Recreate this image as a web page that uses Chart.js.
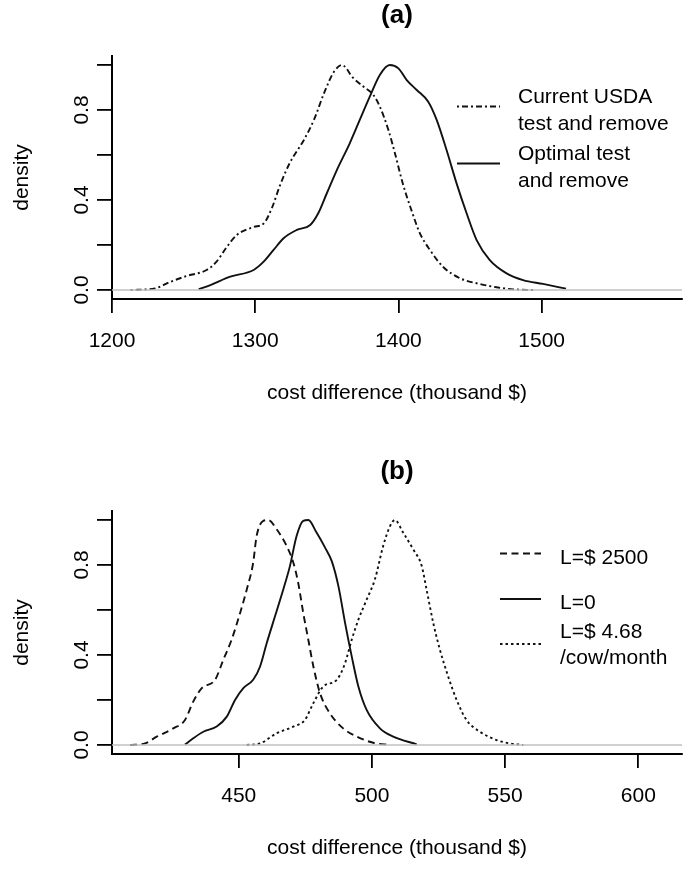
<!DOCTYPE html>
<html>
<head>
<meta charset="utf-8">
<script src="https://cdn.jsdelivr.net/npm/chart.js@4/dist/chart.umd.min.js"></script>
<style>
  html, body { margin: 0; padding: 0; background: #fff; }
  canvas { position: absolute; left: 0; }
  #chartA { top: 0; }
  #chartB { top: 455px; }
</style>
</head>
<body>
<canvas id="chartA" width="692" height="455"></canvas>
<canvas id="chartB" width="692" height="415"></canvas>
<script>
// panel (a): density of cost difference
const usdaCost = [1213, 1230, 1241, 1252, 1266, 1273, 1280, 1287, 1299, 1306, 1312, 1317, 1324, 1334, 1341, 1348, 1355, 1360.5, 1368.6, 1375.5, 1382.5, 1387, 1393, 1397.6, 1403, 1409, 1415, 1422, 1431, 1443, 1454.6, 1468.5, 1480, 1494];
const usdaDens = [0, 0.007, 0.037, 0.062, 0.089, 0.126, 0.19, 0.244, 0.28, 0.296, 0.37, 0.46, 0.563, 0.667, 0.756, 0.874, 0.97, 1.0, 0.941, 0.904, 0.867, 0.815, 0.711, 0.607, 0.474, 0.356, 0.252, 0.178, 0.104, 0.052, 0.03, 0.012, 0.003, 0];
const optCost = [1260.5, 1268.7, 1282.6, 1298.9, 1305.9, 1312.8, 1319.8, 1329, 1338.4, 1344, 1350, 1357, 1366, 1373, 1380, 1387, 1394, 1400, 1405.8, 1412.8, 1420.8, 1426.7, 1433.6, 1440.6, 1447.6, 1454.6, 1463.8, 1475.5, 1487, 1501, 1517];
const optDens = [0.003, 0.022, 0.059, 0.089, 0.126, 0.178, 0.23, 0.267, 0.289, 0.341, 0.43, 0.533, 0.652, 0.756, 0.859, 0.956, 1.0, 0.985, 0.933, 0.889, 0.837, 0.756, 0.622, 0.474, 0.341, 0.222, 0.133, 0.074, 0.044, 0.027, 0.006];
const xTicksA = [1200, 1300, 1400, 1500];
const xRangeA = [1200, 1598];
const legendA = [["Current USDA", "test and remove"], ["Optimal test", "and remove"]];

// panel (b)
const l2500Cost = [409.2, 414.8, 419.2, 425.4, 429.8, 432.9, 436.1, 441.1, 444.2, 447.3, 450.5, 453, 455.4, 456.7, 459.2, 461.1, 464.2, 468, 470.5, 472.3, 474.2, 476.1, 478, 480.5, 484.2, 489.2, 494.3, 500.5, 506.8];
const l2500Dens = [0, 0.007, 0.037, 0.074, 0.111, 0.193, 0.253, 0.29, 0.379, 0.468, 0.587, 0.691, 0.81, 0.929, 0.996, 1.0, 0.959, 0.884, 0.81, 0.721, 0.587, 0.468, 0.349, 0.23, 0.141, 0.074, 0.037, 0.01, 0];
const l0Cost = [429.8, 432.9, 436.7, 441.7, 445.5, 448.6, 451.7, 455.4, 458, 460.5, 463.6, 466.7, 469.2, 471.7, 474.2, 476.1, 479.2, 482.4, 484.9, 487.4, 489.9, 492.4, 494.9, 498, 503, 508, 516.8];
const l0Dens = [0.002, 0.03, 0.059, 0.082, 0.126, 0.2, 0.253, 0.29, 0.349, 0.453, 0.572, 0.691, 0.795, 0.929, 0.996, 1.0, 0.944, 0.877, 0.817, 0.706, 0.543, 0.394, 0.26, 0.156, 0.074, 0.037, 0.003];
const l468Cost = [453, 458, 464.2, 470.5, 474.8, 478, 481.7, 486.8, 489.9, 492.4, 494.9, 498, 501.1, 504.2, 506.8, 508.6, 511.7, 515.5, 518.7, 520.5, 523, 525.5, 528.6, 531.8, 535.5, 540.5, 546.8, 551.8, 556.8];
const l468Dens = [0, 0.007, 0.052, 0.082, 0.111, 0.186, 0.26, 0.29, 0.364, 0.468, 0.557, 0.646, 0.736, 0.884, 0.973, 1.0, 0.944, 0.869, 0.795, 0.691, 0.543, 0.424, 0.305, 0.2, 0.111, 0.059, 0.022, 0.007, 0];
const xTicksB = [450, 500, 550, 600];
const xRangeB = [402.4, 616.4];
const legendB = [["L=$ 2500"], ["L=0"], ["L=$ 4.68", "/cow/month"]];

const yTicks = [0, 0.2, 0.4, 0.6, 0.8, 1.0];
const yLabels = [0, 0.4, 0.8];
const xTitle = "cost difference (thousand $)";

const FONT = "'Liberation Sans', Arial, sans-serif";

function curve(xs, ys, dash) {
    return {
        data: xs.map((x, i) => ({ x: x, y: ys[i] })),
        borderColor: '#111',
        borderWidth: 1.9,
        borderDash: dash,
        pointRadius: 0,
        cubicInterpolationMode: 'monotone',
        fill: false
    };
}

function zeroLine(range) {
    return {
        data: [{ x: range[0], y: 0 }, { x: range[1], y: 0 }],
        borderColor: '#c0c0c0',
        borderWidth: 1.5,
        pointRadius: 0,
        tension: 0
    };
}

// title, rotated y labels and legend, drawn the R way
const panelText = {
    id: 'panelText',
    afterDraw(chart, args, o) {
        const ctx = chart.ctx, ca = chart.chartArea, ys = chart.scales.y;
        ctx.save();
        ctx.fillStyle = '#000';
        ctx.font = 'bold 26px ' + FONT;
        ctx.textAlign = 'center';
        ctx.textBaseline = 'middle';
        ctx.fillText(o.title, (ca.left + ca.right) / 2, o.titleY);

        ctx.font = '21px ' + FONT;
        yLabels.forEach(v => {
            ctx.save();
            ctx.translate(82, ys.getPixelForValue(v));
            ctx.rotate(-Math.PI / 2);
            ctx.fillText(v.toFixed(1), 0, 0);
            ctx.restore();
        });

        ctx.textAlign = 'left';
        ctx.textBaseline = 'alphabetic';
        o.items.forEach((item, k) => {
            const ds = chart.data.datasets[item.ds];
            ctx.beginPath();
            ctx.setLineDash(ds.borderDash || []);
            ctx.lineWidth = ds.borderWidth;
            ctx.strokeStyle = ds.borderColor;
            ctx.moveTo(o.sx0, item.sy);
            ctx.lineTo(o.sx1, item.sy);
            ctx.stroke();
            ctx.setLineDash([]);
            o.text[k].forEach((t, i) => ctx.fillText(t, o.tx, item.base + i * 26.5));
        });
        ctx.restore();
    }
};

function makePanel(id, height, datasets, xRange, xTicks, titlePadBottom, textOpts) {
    new Chart(document.getElementById(id), {
        type: 'line',
        data: { datasets: datasets },
        plugins: [panelText],
        options: {
            responsive: false,
            animation: false,
            layout: { padding: { top: 56, left: 0, right: 10, bottom: 0 } },
            plugins: {
                legend: { display: false },
                tooltip: { enabled: false },
                panelText: textOpts
            },
            scales: {
                x: {
                    type: 'linear',
                    min: xRange[0],
                    max: xRange[1],
                    afterBuildTicks: s => { s.ticks = xTicks.map(v => ({ value: v })); },
                    afterFit: s => { s.height = height - 299; },
                    border: { display: true, color: '#000', width: 2 },
                    grid: { drawOnChartArea: false, drawTicks: true, tickLength: 14, color: '#000', lineWidth: 1.8 },
                    ticks: { callback: v => String(v), font: { family: FONT, size: 21 }, color: '#000', padding: 15.4, maxRotation: 0, autoSkip: false },
                    title: { display: true, text: xTitle, font: { family: FONT, size: 21 }, color: '#000', padding: { top: 0, bottom: titlePadBottom } }
                },
                y: {
                    type: 'linear',
                    min: -0.04,
                    max: 1.04,
                    afterBuildTicks: s => { s.ticks = yTicks.map(v => ({ value: v })); },
                    afterFit: s => { s.width = 112; },
                    border: { display: true, color: '#000', width: 2 },
                    grid: { drawOnChartArea: false, drawTicks: true, tickLength: 15, color: '#000', lineWidth: 1.8 },
                    ticks: { callback: () => '', font: { family: FONT, size: 21 } },
                    title: { display: true, text: 'density', font: { family: FONT, size: 21 }, color: '#000', padding: { top: 9.4, bottom: 0 } }
                }
            }
        }
    });
}

makePanel('chartA', 455, [
    zeroLine(xRangeA),
    curve(usdaCost, usdaDens, [2, 3, 6, 3]),
    curve(optCost, optDens, [])
], xRangeA, xTicksA, 49.4, {
    title: '(a)', titleY: 16,
    sx0: 457, sx1: 500, tx: 518,
    text: legendA,
    items: [{ ds: 1, sy: 106.5, base: 103.3 }, { ds: 2, sy: 163.5, base: 160 }]
});

makePanel('chartB', 415, [
    zeroLine(xRangeB),
    curve(l2500Cost, l2500Dens, [7, 4.5]),
    curve(l0Cost, l0Dens, []),
    curve(l468Cost, l468Dens, [2.5, 3])
], xRangeB, xTicksB, 9.4, {
    title: '(b)', titleY: 17,
    sx0: 500, sx1: 541, tx: 560,
    text: legendB,
    items: [{ ds: 1, sy: 98.5, base: 109 }, { ds: 2, sy: 144, base: 154.3 }, { ds: 3, sy: 189, base: 182.7 }]
});
</script>
</body>
</html>
